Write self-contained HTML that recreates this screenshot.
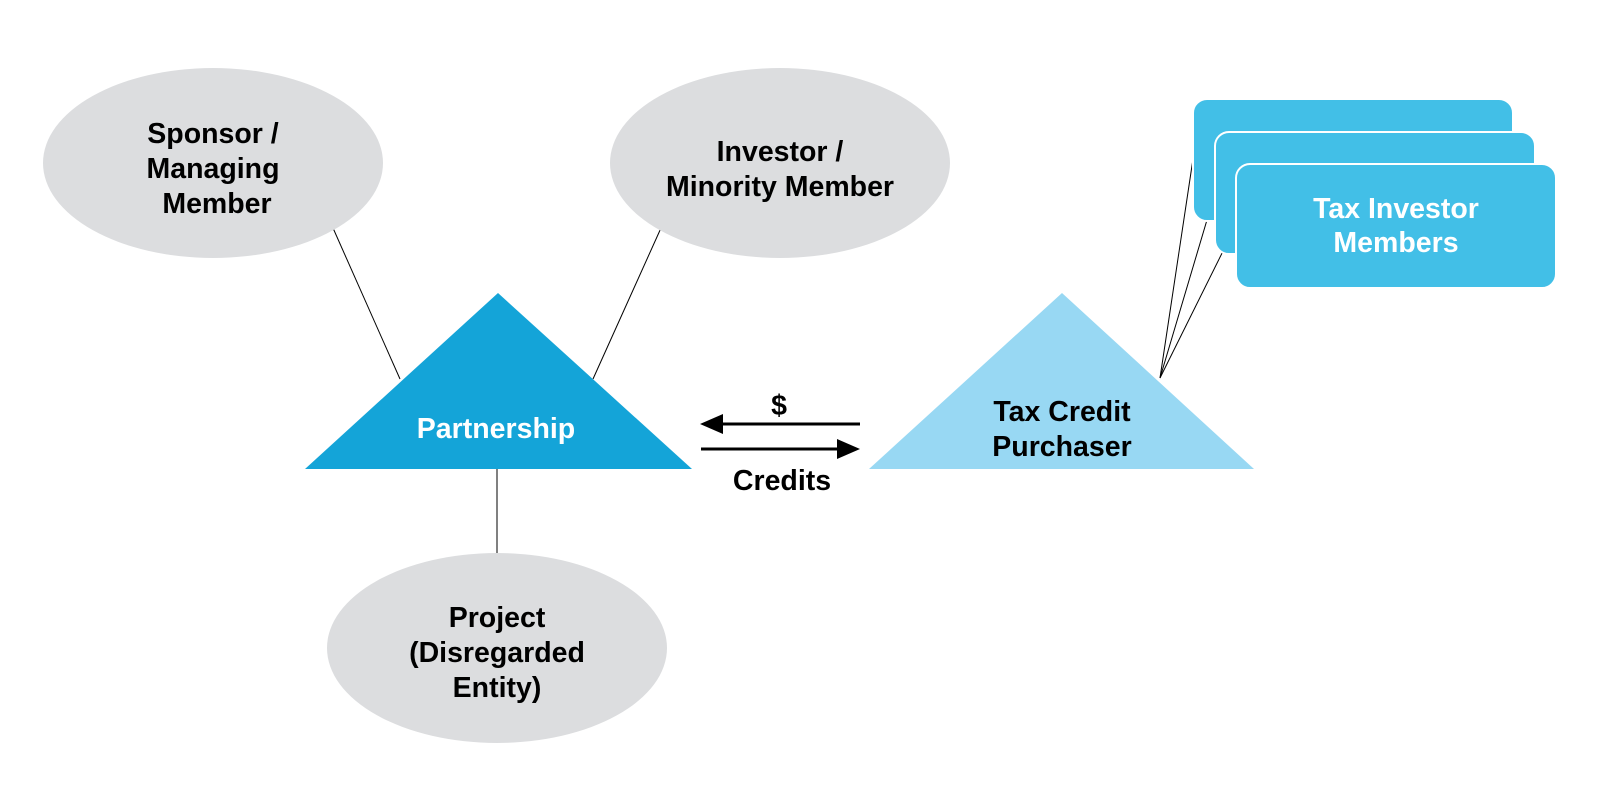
<!DOCTYPE html>
<html><head><meta charset="utf-8"><style>html,body{margin:0;padding:0;background:#fff}</style></head>
<body>
<svg width="1600" height="800" viewBox="0 0 1600 800" xmlns="http://www.w3.org/2000/svg" font-family="Liberation Sans, sans-serif" font-weight="bold" font-size="28.5" text-anchor="middle">
<g stroke="#000" stroke-width="1">
<line x1="333" y1="228" x2="400" y2="379"/>
<line x1="661" y1="228" x2="593" y2="379"/>
<line x1="497" y1="469" x2="497" y2="554"/>
<line x1="1160" y1="378" x2="1193" y2="159"/>
<line x1="1160" y1="378" x2="1215" y2="193"/>
<line x1="1160" y1="378" x2="1236" y2="225"/>
</g>
<ellipse cx="213" cy="163" rx="170" ry="95" fill="#dcdddf"/>
<ellipse cx="780" cy="163" rx="170" ry="95" fill="#dcdddf"/>
<ellipse cx="497" cy="648" rx="170" ry="95" fill="#dcdddf"/>
<text x="213" y="143">Sponsor /</text>
<text x="213" y="178">Managing</text>
<text x="217" y="213">Member</text>
<text x="780" y="161">Investor /</text>
<text x="780" y="196">Minority Member</text>
<text x="497" y="627">Project</text>
<text x="497" y="662">(Disregarded</text>
<text x="497" y="697">Entity)</text>
<polygon points="498,293 305,469 692,469" fill="#14a4d8"/>
<text x="496" y="438" fill="#fff">Partnership</text>
<polygon points="1062,293 869,469 1254,469" fill="#98d8f3"/>
<text x="1062" y="421">Tax Credit</text>
<text x="1062" y="456">Purchaser</text>
<g stroke="#fff" stroke-width="2" fill="#42bfe7">
<rect x="1193" y="99" width="320" height="122" rx="14"/>
<rect x="1215" y="132" width="320" height="122" rx="14"/>
<rect x="1236" y="164" width="320" height="124" rx="14"/>
</g>
<text x="1396" y="218" fill="#fff">Tax Investor</text>
<text x="1396" y="252" fill="#fff">Members</text>
<line x1="860" y1="424" x2="718" y2="424" stroke="#000" stroke-width="3"/>
<polygon points="700,424 723,414 723,434"/>
<line x1="701" y1="449" x2="842" y2="449" stroke="#000" stroke-width="3"/>
<polygon points="860,449 837,439 837,459"/>
<text x="779" y="415">$</text>
<text x="782" y="490">Credits</text>
</svg>
</body></html>
